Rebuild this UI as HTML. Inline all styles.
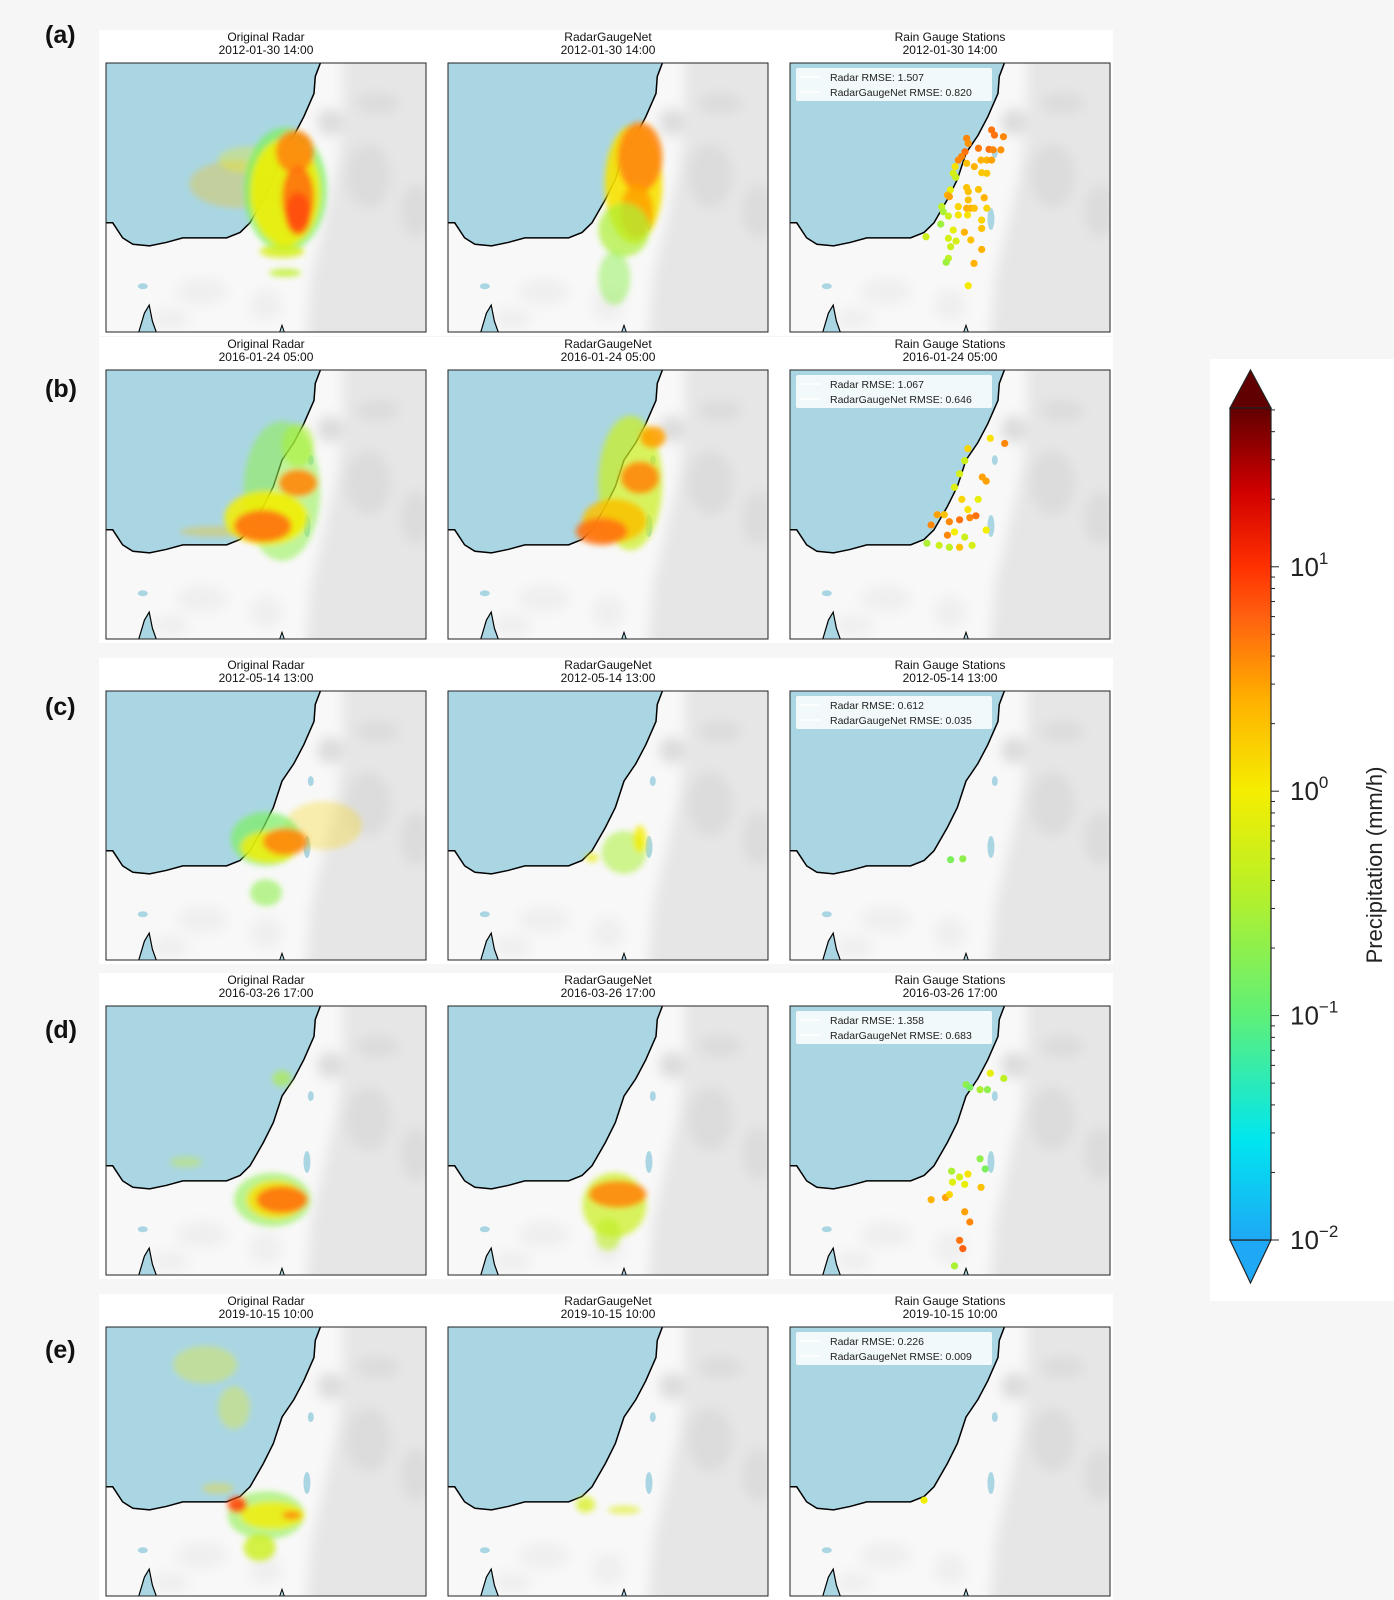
<!DOCTYPE html>
<html><head><meta charset="utf-8">
<style>
body{margin:0;background:#f6f6f6;}
#fig{position:absolute;left:0;top:0;width:1394px;height:1600px;}
text{font-family:"Liberation Sans","DejaVu Sans",sans-serif;}
</style></head>
<body>
<svg id="fig" width="1394" height="1600" viewBox="0 0 1394 1600" xmlns="http://www.w3.org/2000/svg">
<defs>
<filter id="blur" x="-50%" y="-50%" width="200%" height="200%"><feGaussianBlur stdDeviation="3"/></filter>
<filter id="soft" x="-20%" y="-20%" width="140%" height="140%"><feGaussianBlur stdDeviation="6"/></filter>
<linearGradient id="cbgrad" x1="0" y1="1" x2="0" y2="0">
<stop offset="0" stop-color="#1ea8f5"/><stop offset="0.12" stop-color="#00e6f0"/><stop offset="0.27" stop-color="#5ef078"/><stop offset="0.42" stop-color="#b8f028"/><stop offset="0.54" stop-color="#f5ee00"/><stop offset="0.65" stop-color="#ffb000"/><stop offset="0.75" stop-color="#ff6010"/><stop offset="0.81" stop-color="#ff3000"/><stop offset="0.9" stop-color="#d00000"/><stop offset="1" stop-color="#600000"/>
</linearGradient>
</defs>
<g id="root"></g>
</svg>
<script>
// ---------- data ----------
const rowLabels = ["(a)","(b)","(c)","(d)","(e)"];
const rowDates = ["2012-01-30 14:00","2016-01-24 05:00","2012-05-14 13:00","2016-03-26 17:00","2019-10-15 10:00"];
const colTitles = ["Original Radar","RadarGaugeNet","Rain Gauge Stations"];
const radarRMSE = ["1.507","1.067","0.612","1.358","0.226"];
const netRMSE = ["0.820","0.646","0.035","0.683","0.009"];
const cbTicks = [-2,-1,0,1];
const cbMin = -2, cbMax = Math.log10(51);

// coastline in normalized map coords (u east, v south)
const coastU = [0.67,0.654,0.65,0.618,0.587,0.55,0.523,0.492,0.45,0.419,0.377,0.293,0.24,0.188,0.136,0.084,0.052,0.021,0];
const coastV = [0,0.05,0.113,0.2,0.27,0.335,0.433,0.507,0.594,0.63,0.65,0.65,0.65,0.667,0.68,0.674,0.65,0.594,0.594];

// rain blobs per row: [u,v,ru,rv,value,opacity]
const rainOrig = [
 [[.42,.45,.16,.09,2,.3],[.45,.36,.1,.05,1,.3],[.56,.47,.13,.23,.15,.75],[.56,.48,.11,.2,.9,.9],[.59,.33,.06,.08,4,.9],[.6,.5,.05,.12,5,.9],[.6,.56,.04,.08,8,.8],[.55,.7,.07,.025,.6,.8],[.56,.78,.05,.015,.4,.8]],
 [[.36,.6,.13,.02,2,.35],[.55,.45,.12,.26,.2,.55],[.6,.28,.05,.08,.3,.6],[.5,.55,.13,.1,1,.85],[.49,.58,.09,.06,5,.9],[.6,.42,.06,.05,4,.9]],
 [[.68,.5,.12,.09,1.5,.3],[.5,.55,.11,.1,.15,.7],[.51,.58,.09,.06,1,.8],[.56,.56,.07,.05,4,.9],[.5,.75,.05,.05,.2,.6]],
 [[.25,.58,.05,.02,.5,.35],[.55,.27,.03,.03,.3,.6],[.52,.72,.12,.1,.2,.6],[.53,.72,.09,.07,1.2,.85],[.55,.72,.08,.05,5,.9]],
 [[.31,.14,.1,.07,1,.3],[.4,.3,.05,.08,1,.3],[.35,.6,.05,.02,1.5,.35],[.5,.7,.12,.09,.2,.6],[.52,.7,.1,.05,1,.8],[.41,.66,.03,.03,8,.9],[.58,.7,.03,.015,4,.9],[.48,.82,.05,.05,.5,.8]]
];
const rainNet = [
 [[.58,.45,.09,.22,1.2,.9],[.6,.35,.07,.13,4,.9],[.59,.55,.05,.1,3,.85],[.55,.62,.08,.1,.3,.7],[.52,.8,.05,.1,.2,.5]],
 [[.57,.42,.1,.25,.5,.7],[.52,.56,.1,.08,2,.85],[.6,.4,.06,.06,4,.9],[.64,.25,.04,.04,3,.9],[.48,.6,.08,.05,5,.9]],
 [[.55,.6,.07,.08,.3,.55],[.6,.55,.02,.05,1,.8],[.45,.62,.02,.015,.8,.8]],
 [[.52,.74,.1,.12,.5,.7],[.53,.7,.09,.05,4,.9],[.5,.85,.04,.06,.4,.6]],
 [[.43,.66,.03,.03,.6,.7],[.55,.68,.05,.015,.7,.6]]
];

// gauge stations per row
const gaugeU = [
 [.630,.639,.667,.552,.557,.589,.622,.635,.659,.547,.536,.526,.597,.615,.630,.552,.516,.576,.599,.615,.510,.518,.552,.589,.557,.501,.492,.498,.607,.557,.526,.552,.565,.576,.615,.474,.479,.495,.526,.555,.599,.471,.599,.510,.545,.425,.495,.519,.565,.502,.599,.495,.488,.575,.557],
 [.626,.671,.556,.546,.530,.601,.613,.514,.537,.588,.556,.460,.482,.441,.498,.530,.562,.581,.492,.514,.546,.428,.466,.498,.530,.569,.613],
 [.502,.540],
 [.550,.562,.594,.626,.668,.617,.505,.530,.556,.594,.610,.508,.546,.597,.441,.486,.498,.546,.562,.530,.540,.514],
 [.419]
];
const gaugeV = [
 [.249,.268,.274,.280,.299,.317,.321,.323,.323,.330,.348,.361,.361,.361,.361,.373,.385,.385,.408,.410,.410,.425,.463,.470,.478,.472,.491,.497,.501,.509,.534,.540,.540,.540,.540,.534,.553,.569,.565,.565,.584,.599,.615,.621,.629,.646,.652,.662,.658,.683,.693,.726,.741,.745,.828],
 [.254,.273,.292,.337,.386,.398,.413,.436,.481,.481,.519,.538,.538,.576,.564,.557,.549,.542,.614,.602,.621,.644,.652,.659,.659,.652,.595],
 [.627,.624],
 [.292,.303,.311,.250,.269,.311,.614,.636,.625,.568,.606,.655,.663,.674,.720,.712,.701,.765,.803,.871,.902,.966],
 [.644]
];
const gaugeVal = [
 [5,5,4,4,3.5,4.5,5,4,3.5,5,4,4,2.5,2.5,3,2,1.2,2.5,1.8,1.8,0.6,0.5,2,2,2,0.8,2.5,3,2.5,2,1.5,2.5,2.5,2,1.5,0.4,0.3,0.5,1.2,1.2,1.5,0.25,2,0.8,2.5,0.5,0.6,0.6,2,0.5,2.5,0.4,0.25,2.5,1.1],
 [1.2,4,1.5,0.5,0.6,3,3,0.7,1.5,0.8,1.2,3,2,4,4,5,4,5,4,1,0.5,0.3,0.5,0.4,2,0.6,1],
 [0.15,0.2],
 [0.2,0.15,0.3,0.8,0.4,0.2,0.3,0.6,1.2,0.2,0.15,0.7,0.8,2,2.5,3,1.5,3,4,5,6,0.3],
 [0.9]
];

// ---------- layout ----------
const colX = [106,448,790], rowY = [63,370,691,1006,1327], PW = 320, PH = 269;
const NS = "http://www.w3.org/2000/svg";
const root = document.getElementById('root');
function el(tag, attrs, parent){ const e=document.createElementNS(NS,tag); for(const k in attrs) e.setAttribute(k,attrs[k]); (parent||root).appendChild(e); return e; }

const stops=[[0,[30,168,245]],[.12,[0,230,240]],[.27,[94,240,120]],[.42,[184,240,40]],[.54,[245,238,0]],[.65,[255,176,0]],[.75,[255,96,16]],[.81,[255,48,0]],[.9,[208,0,0]],[1,[96,0,0]]];
function tOf(v){ return Math.max(0,Math.min(1,(Math.log10(v)-cbMin)/(cbMax-cbMin))); }
function cmap(v){ const t=tOf(v); for(let i=1;i<stops.length;i++){ if(t<=stops[i][0]){ const a=stops[i-1],b=stops[i],f=(t-a[0])/(b[0]-a[0]); const c=a[1].map((x,j)=>Math.round(x+(b[1][j]-x)*f)); return `rgb(${c})`; } } return 'rgb(96,0,0)'; }

rowY.forEach((y,r)=>{
  const bg=el('rect',{x:99,y:y-33,width:1014,height:306,fill:'#ffffff'});
  
  
});
const cbbg=el('rect',{x:1210,y:359,width:184,height:942,fill:'#ffffff'});



function drawMap(g,x0,y0,id){
  const X=u=>x0+u*PW, Y=v=>y0+v*PH;
  const clip=el('clipPath',{id:'clip'+id},g);
  el('rect',{x:x0,y:y0,width:PW,height:PH},clip);
  const m=el('g',{'clip-path':`url(#clip${id})`},g);
  el('rect',{x:x0,y:y0,width:PW,height:PH,fill:'#f8f8f8'},m);
  const land=el('g',{filter:'url(#soft)'},m);
  el('polygon',{points:[[.74,-.1],[1.1,-.1],[1.1,1.1],[.62,1.1],[.64,.8],[.68,.6],[.72,.4],[.74,.2]].map(p=>X(p[0])+','+Y(p[1])).join(' '),fill:'#e6e6e6'},land);
  [[.85,.15,.07,.04],[.82,.42,.07,.12],[.97,.55,.05,.1],[.7,.22,.04,.05]].forEach(b=>el('ellipse',{cx:X(b[0]),cy:Y(b[1]),rx:b[2]*PW,ry:b[3]*PH,fill:'#dcdcdc'},land));
  [[.3,.85,.08,.05],[.5,.9,.05,.06],[.2,.95,.06,.04]].forEach(b=>el('ellipse',{cx:X(b[0]),cy:Y(b[1]),rx:b[2]*PW,ry:b[3]*PH,fill:'#efefef'},land));
  let pts=coastU.map((u,i)=>X(u)+','+Y(coastV[i]));
  const sea=el('polygon',{points:pts.join(' ')+' '+X(0)+','+Y(0),fill:'#aad6e3'},m);
  
  
  el('ellipse',{cx:X(.64),cy:Y(.335),rx:3,ry:5,fill:'#aad6e3'},m);
  el('ellipse',{cx:X(.628),cy:Y(.58),rx:3.5,ry:11,fill:'#aad6e3'},m);
  el('ellipse',{cx:X(.115),cy:Y(.83),rx:5,ry:3,fill:'#aad6e3'},m);
  el('polygon',{points:[X(.1)+','+Y(1.01),X(.12)+','+Y(.93),X(.135)+','+Y(.9),X(.145)+','+Y(.96),X(.16)+','+Y(1.01)].join(' '),fill:'#aad6e3',stroke:'#000','stroke-width':1.2},m);
  el('polygon',{points:[X(.54)+','+Y(1.01),X(.55)+','+Y(.975),X(.56)+','+Y(1.01)].join(' '),fill:'#aad6e3',stroke:'#000','stroke-width':1},m);
  const cl=el('polyline',{points:pts.join(' '),fill:'none',stroke:'#000','stroke-width':1.5},m);
  
  
  return {m,X,Y};
}

rowY.forEach((y0,r)=>{
  colX.forEach((x0,c)=>{
    const g=el('g',{});
    
    
    const t1=el('text',{x:x0+PW/2,y:y0-22,'text-anchor':'middle','font-size':12,fill:'#111'},g);
    t1.textContent=colTitles[c];
    
    
    const t2=el('text',{x:x0+PW/2,y:y0-9,'text-anchor':'middle','font-size':12,fill:'#111'},g);
    t2.textContent=rowDates[r];
    
    
    const {m,X,Y}=drawMap(g,x0,y0,r+'_'+c);
    if(c<2){
      const blobs=(c===0?rainOrig:rainNet)[r];
      const rg=el('g',{filter:'url(#blur)'},m);
      blobs.forEach(b=>{
        const e=el('ellipse',{cx:X(b[0]),cy:Y(b[1]),rx:b[2]*PW,ry:b[3]*PH,fill:cmap(b[4]),opacity:b[5]},rg);
        
        
      });
    } else {
      gaugeU[r].forEach((u,i)=>{
        const d=el('circle',{cx:X(u),cy:Y(gaugeV[r][i]),r:3.6,fill:cmap(gaugeVal[r][i])},m);
        
        
      });
      const lg=el('g',{},g);
      
      
      el('rect',{x:x0+6,y:y0+5,width:196,height:33,fill:'#ffffff',opacity:.85,rx:2},lg);
      el('line',{x1:x0+10,y1:y0+14,x2:x0+30,y2:y0+14,stroke:'#ffffff','stroke-width':1.5},lg);
      el('line',{x1:x0+10,y1:y0+29,x2:x0+30,y2:y0+29,stroke:'#ffffff','stroke-width':1.5},lg);
      const l1=el('text',{x:x0+40,y:y0+18,'font-size':10.5,fill:'#222'},lg); l1.textContent='Radar RMSE: '+radarRMSE[r];
      const l2=el('text',{x:x0+40,y:y0+33,'font-size':10.5,fill:'#222'},lg); l2.textContent='RadarGaugeNet RMSE: '+netRMSE[r];
    }
    const fr=el('rect',{x:x0,y:y0,width:PW,height:PH,fill:'none',stroke:'#222','stroke-width':1},g);
    
    
  });
  const lab=el('text',{x:45,y:[43,397,715,1038,1358][r],'font-size':25,'font-weight':'bold',fill:'#111'});
  lab.textContent=rowLabels[r];
  
  
});

// colorbar
const cbX0=1230, cbX1=1271, cbTop=408, cbBot=1240;
const cbY=lv=>cbBot-(lv-cbMin)/(cbMax-cbMin)*(cbBot-cbTop);
const cb=el('g',{});


el('polygon',{points:`${cbX0},${cbBot} ${cbX1},${cbBot} ${(cbX0+cbX1)/2},1283`,fill:'#1ea8f5',stroke:'#222','stroke-width':1.2},cb);
el('polygon',{points:`${cbX0},${cbTop} ${cbX1},${cbTop} ${(cbX0+cbX1)/2},370`,fill:'#600000',stroke:'#222','stroke-width':1.2},cb);
el('rect',{x:cbX0,y:cbTop,width:cbX1-cbX0,height:cbBot-cbTop,fill:'url(#cbgrad)',stroke:'#222','stroke-width':1.2},cb);
for(let d=-2; d<=1; d++){
  for(let k=1;k<=9;k++){
    const lv=d+Math.log10(k); if(lv>cbMax) continue;
    const y=cbY(lv);
    el('line',{x1:cbX1,y1:y,x2:cbX1+(k===1?8:4),y2:y,stroke:'#222','stroke-width':1},cb);
  }
}
cbTicks.forEach(d=>{
  const t=el('text',{x:1290,y:cbY(d)+9,'font-size':26,fill:'#222'},cb);
  t.textContent='10';
  const s=el('tspan',{dy:-12,'font-size':17},t); s.textContent=d<0?'\u2212'+(-d):String(d);
  
  
});
const cbt=el('text',{x:1382,y:865,'font-size':22,fill:'#222','text-anchor':'middle',transform:'rotate(-90 1382 865)'},cb);
cbt.textContent='Precipitation (mm/h)';


</script>
</body></html>
